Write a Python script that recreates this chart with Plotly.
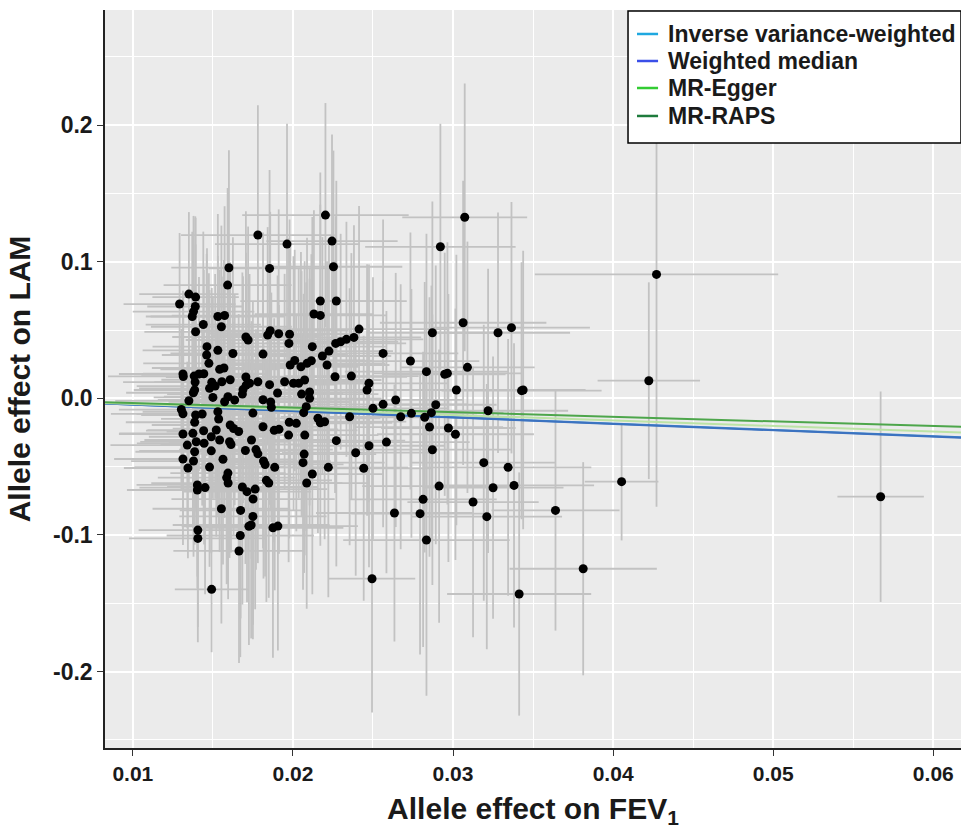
import numpy as np
import plotly.graph_objects as go

# ---- SNP effects ----
fev1_beta = [
    0.02203, 0.01781, 0.02244, 0.01963, 0.01854, 0.02253, 0.01600, 0.01592, 0.03073, 0.02921,
    0.04271, 0.01350, 0.01392, 0.01292, 0.01390, 0.01379, 0.01371, 0.01531, 0.01573, 0.01440,
    0.01553, 0.01392, 0.01706, 0.01720, 0.02171, 0.02271, 0.02131, 0.02171, 0.01858, 0.01842,
    0.01911, 0.01979, 0.01975, 0.02413, 0.02381, 0.02334, 0.02298, 0.02267, 0.03063, 0.02871,
    0.03281, 0.03365, 0.01463, 0.01531, 0.01625, 0.01461, 0.01475, 0.01813, 0.02121, 0.02225,
    0.02184, 0.02115, 0.02088, 0.02050, 0.02011, 0.01983, 0.02213, 0.02263, 0.02365, 0.01542,
    0.01569, 0.01313, 0.01315, 0.01383, 0.01413, 0.01443, 0.01389, 0.01493, 0.01514, 0.01556,
    0.01608, 0.01706, 0.01729, 0.01781, 0.01854, 0.01948, 0.02003, 0.02036, 0.02073, 0.02563,
    0.02734, 0.02834, 0.02948, 0.02965, 0.03090, 0.02475, 0.01688, 0.01708, 0.01684, 0.01386,
    0.01479, 0.01904, 0.02054, 0.02104, 0.02104, 0.02463, 0.03021, 0.03428, 0.03438, 0.01378,
    0.01500, 0.01350, 0.01594, 0.01636, 0.01573, 0.01813, 0.01861, 0.02083, 0.01865, 0.02067,
    0.01750, 0.02500, 0.02563, 0.02642, 0.01303, 0.01313, 0.01392, 0.01433, 0.01531, 0.01536,
    0.01386, 0.01608, 0.01629, 0.01661, 0.01813, 0.01883, 0.01913, 0.01977, 0.02021, 0.01973,
    0.02074, 0.02156, 0.02171, 0.02198, 0.02354, 0.02673, 0.02740, 0.02823, 0.02865, 0.02892,
    0.03219, 0.02853, 0.02971, 0.03015, 0.01313, 0.01375, 0.01442, 0.01521, 0.01490, 0.01542,
    0.01396, 0.01445, 0.01340, 0.01604, 0.01613, 0.01741, 0.02271, 0.02475, 0.02584, 0.01386,
    0.01490, 0.01703, 0.01769, 0.01781, 0.01313, 0.01379, 0.01563, 0.01816, 0.01826, 0.01886,
    0.02070, 0.02063, 0.01344, 0.01479, 0.01594, 0.01586, 0.01595, 0.01834, 0.01849, 0.02086,
    0.02121, 0.02221, 0.02392, 0.02442, 0.02871, 0.03192, 0.03344, 0.01403, 0.01403, 0.01451,
    0.01684, 0.01713, 0.01764, 0.01751, 0.01553, 0.01673, 0.01750, 0.01725, 0.01739, 0.01875,
    0.01906, 0.01406, 0.01406, 0.01671, 0.01663, 0.01492, 0.02494, 0.02913, 0.03250, 0.03381,
    0.02813, 0.03125, 0.02634, 0.02794, 0.03211, 0.03640, 0.02834, 0.03413, 0.03813, 0.04053,
    0.04223, 0.05671,
]
lam_beta = [
    0.1341, 0.1195, 0.1151, 0.1129, 0.0951, 0.0963, 0.0956, 0.0829, 0.1325, 0.1109,
    0.0907, 0.0763, 0.0741, 0.0690, 0.0672, 0.0635, 0.0599, 0.0599, 0.0606, 0.0540,
    0.0524, 0.0487, 0.0449, 0.0427, 0.0712, 0.0712, 0.0617, 0.0607, 0.0495, 0.0463,
    0.0473, 0.0469, 0.0402, 0.0507, 0.0446, 0.0432, 0.0414, 0.0402, 0.0553, 0.0480,
    0.0480, 0.0517, 0.0378, 0.0351, 0.0328, 0.0317, 0.0256, 0.0324, 0.0378, 0.0346,
    0.0310, 0.0275, 0.0256, 0.0231, 0.0277, 0.0244, 0.0244, 0.0158, 0.0163, 0.0212,
    0.0222, 0.0178, 0.0160, 0.0163, 0.0178, 0.0180, 0.0119, 0.0118, 0.0090, 0.0121,
    0.0136, 0.0156, 0.0110, 0.0121, 0.0100, 0.0121, 0.0110, 0.0110, 0.0134, 0.0329,
    0.0273, 0.0195, 0.0176, 0.0183, 0.0227, 0.0110, 0.0064, 0.0097, 0.0031, 0.0061,
    0.0073, 0.0039, 0.0031, 0.0046, 0.0000, 0.0061, 0.0061, 0.0056, 0.0061, 0.0041,
    0.0007, -0.0018, 0.0012, -0.0012, -0.0025, -0.0010, -0.0027, -0.0061, -0.0066, -0.0105,
    -0.0108, -0.0073, -0.0044, -0.0012, -0.0082, -0.0113, -0.0122, -0.0115, -0.0098, -0.0151,
    -0.0175, -0.0195, -0.0221, -0.0243, -0.0208, -0.0234, -0.0227, -0.0175, -0.0183, -0.0269,
    -0.0269, -0.0146, -0.0179, -0.0171, -0.0135, -0.0135, -0.0110, -0.0139, -0.0105, -0.0047,
    -0.0091, -0.0210, -0.0217, -0.0263, -0.0261, -0.0256, -0.0237, -0.0232, -0.0281, -0.0305,
    -0.0318, -0.0329, -0.0342, -0.0318, -0.0338, -0.0305, -0.0310, -0.0347, -0.0320, -0.0391,
    -0.0384, -0.0382, -0.0375, -0.0406, -0.0444, -0.0459, -0.0446, -0.0459, -0.0484, -0.0505,
    -0.0408, -0.0471, -0.0510, -0.0503, -0.0547, -0.0580, -0.0620, -0.0600, -0.0620, -0.0620,
    -0.0554, -0.0505, -0.0398, -0.0512, -0.0376, -0.0471, -0.0505, -0.0634, -0.0671, -0.0653,
    -0.0649, -0.0683, -0.0664, -0.0737, -0.0808, -0.0820, -0.0864, -0.0936, -0.0927, -0.0948,
    -0.0935, -0.0964, -0.1025, -0.1004, -0.1117, -0.1398, -0.1320, -0.0642, -0.0654, -0.0637,
    -0.0739, -0.0759, -0.0839, -0.0844, -0.0866, -0.0820, -0.1037, -0.1432, -0.1247, -0.0610,
    0.0129, -0.0720,
]
fev1_ci = [
    0.0052, 0.0048, 0.0041, 0.0045, 0.0038, 0.0043, 0.0036, 0.0040, 0.0039, 0.0047,
    0.0076, 0.0031, 0.0027, 0.0035, 0.0030, 0.0038, 0.0029, 0.0042, 0.0033, 0.0036,
    0.0044, 0.0032, 0.0046, 0.0039, 0.0050, 0.0044, 0.0037, 0.0041, 0.0049, 0.0035,
    0.0043, 0.0038, 0.0046, 0.0055, 0.0042, 0.0048, 0.0036, 0.0044, 0.0052, 0.0041,
    0.0045, 0.0049, 0.0034, 0.0047, 0.0039, 0.0028, 0.0041, 0.0053, 0.0046, 0.0040,
    0.0043, 0.0038, 0.0049, 0.0036, 0.0044, 0.0051, 0.0039, 0.0045, 0.0042, 0.0037,
    0.0045, 0.0040, 0.0047, 0.0033, 0.0042, 0.0038, 0.0045, 0.0036, 0.0049, 0.0034,
    0.0043, 0.0050, 0.0039, 0.0046, 0.0041, 0.0052, 0.0037, 0.0044, 0.0048, 0.0047,
    0.0043, 0.0051, 0.0038, 0.0046, 0.0042, 0.0049, 0.0040, 0.0035, 0.0047, 0.0038,
    0.0044, 0.0041, 0.0048, 0.0036, 0.0045, 0.0052, 0.0044, 0.0050, 0.0039, 0.0042,
    0.0037, 0.0046, 0.0040, 0.0048, 0.0035, 0.0043, 0.0050, 0.0041, 0.0046, 0.0038,
    0.0044, 0.0047, 0.0053, 0.0042, 0.0039, 0.0045, 0.0034, 0.0041, 0.0047, 0.0036,
    0.0043, 0.0049, 0.0038, 0.0045, 0.0041, 0.0052, 0.0037, 0.0044, 0.0048, 0.0040,
    0.0046, 0.0039, 0.0045, 0.0051, 0.0043, 0.0048, 0.0041, 0.0054, 0.0045, 0.0038,
    0.0050, 0.0046, 0.0042, 0.0049, 0.0040, 0.0046, 0.0036, 0.0043, 0.0039, 0.0047,
    0.0035, 0.0042, 0.0048, 0.0038, 0.0044, 0.0050, 0.0043, 0.0047, 0.0052, 0.0037,
    0.0045, 0.0041, 0.0048, 0.0036, 0.0043, 0.0039, 0.0046, 0.0042, 0.0049, 0.0038,
    0.0045, 0.0051, 0.0040, 0.0047, 0.0036, 0.0043, 0.0048, 0.0041, 0.0046, 0.0039,
    0.0044, 0.0050, 0.0046, 0.0042, 0.0049, 0.0045, 0.0052, 0.0038, 0.0044, 0.0041,
    0.0047, 0.0040, 0.0045, 0.0051, 0.0043, 0.0038, 0.0046, 0.0042, 0.0049, 0.0044,
    0.0050, 0.0037, 0.0043, 0.0046, 0.0041, 0.0023, 0.0027, 0.0048, 0.0044, 0.0050,
    0.0046, 0.0041, 0.0049, 0.0043, 0.0047, 0.0040, 0.0052, 0.0045, 0.0046, 0.0023,
    0.0032, 0.0027,
]
lam_ci = [
    0.082, 0.095, 0.078, 0.088, 0.072, 0.085, 0.086, 0.071, 0.098, 0.090,
    0.170, 0.060, 0.058, 0.052, 0.066, 0.070, 0.062, 0.075, 0.080, 0.068,
    0.074, 0.064, 0.092, 0.083, 0.094, 0.088, 0.076, 0.081, 0.087, 0.079,
    0.091, 0.084, 0.077, 0.090, 0.082, 0.086, 0.079, 0.093, 0.104, 0.096,
    0.088, 0.092, 0.072, 0.069, 0.085, 0.074, 0.066, 0.089, 0.095, 0.083,
    0.087, 0.078, 0.092, 0.084, 0.081, 0.088, 0.076, 0.085, 0.090, 0.073,
    0.079, 0.061, 0.058, 0.067, 0.071, 0.076, 0.064, 0.069, 0.082, 0.077,
    0.086, 0.091, 0.080, 0.085, 0.088, 0.079, 0.093, 0.084, 0.087, 0.098,
    0.094, 0.101, 0.089, 0.096, 0.092, 0.087, 0.083, 0.078, 0.089, 0.065,
    0.072, 0.086, 0.090, 0.083, 0.095, 0.092, 0.099, 0.094, 0.102, 0.068,
    0.074, 0.063, 0.081, 0.077, 0.085, 0.088, 0.079, 0.091, 0.084, 0.087,
    0.082, 0.096, 0.090, 0.093, 0.059, 0.064, 0.070, 0.067, 0.076, 0.080,
    0.066, 0.083, 0.078, 0.086, 0.089, 0.082, 0.091, 0.085, 0.079, 0.093,
    0.088, 0.084, 0.090, 0.086, 0.094, 0.097, 0.091, 0.099, 0.093, 0.102,
    0.104, 0.095, 0.098, 0.092, 0.062, 0.069, 0.073, 0.078, 0.071, 0.082,
    0.066, 0.074, 0.061, 0.085, 0.079, 0.087, 0.092, 0.089, 0.096, 0.068,
    0.075, 0.083, 0.088, 0.080, 0.063, 0.070, 0.077, 0.086, 0.082, 0.090,
    0.087, 0.093, 0.066, 0.073, 0.081, 0.078, 0.085, 0.089, 0.084, 0.092,
    0.088, 0.095, 0.090, 0.097, 0.099, 0.101, 0.094, 0.067, 0.072, 0.078,
    0.086, 0.081, 0.088, 0.092, 0.084, 0.079, 0.090, 0.087, 0.083, 0.095,
    0.091, 0.071, 0.076, 0.089, 0.082, 0.046, 0.098, 0.100, 0.096, 0.104,
    0.108, 0.099, 0.094, 0.103, 0.097, 0.088, 0.114, 0.089, 0.078, 0.043,
    0.072, 0.077,
]

# ---- MR estimates (slope lines) ----
methods = ["Inverse variance-weighted", "Weighted median", "MR-Egger", "MR-RAPS"]
slopes = [-0.462, -0.468, -0.405, -0.338]
intercepts = [0.0, 0.0, 0.0, 0.0]
legend_colors = ["#1FA8E0", "#3A4FE8", "#33CC33", "#1E7B3C"]
line_colors = ["#3A86CC", "#3C72C0", "#BCE3A6", "#4DA64B"]

# ---- axes ----
x_range = [0.00826, 0.06173]
y_range = [-0.2559, 0.2842]
x_ticks = [0.01, 0.02, 0.03, 0.04, 0.05, 0.06]
x_ticktext = ["0.01", "0.02", "0.03", "0.04", "0.05", "0.06"]
y_ticks = [-0.2, -0.1, 0.0, 0.1, 0.2]
y_ticktext = ["-0.2", "-0.1", "0.0", "0.1", "0.2"]

FONT = "Liberation Sans, Arial, sans-serif"
TXT = "#1a1a1a"

fig = go.Figure()

# error bars (drawn first)
fig.add_trace(go.Scatter(
    x=fev1_beta, y=lam_beta, mode="markers",
    marker=dict(size=1, color="rgba(0,0,0,0)"),
    error_x=dict(type="data", array=fev1_ci, color="#C2C2C2", thickness=1.8, width=0),
    error_y=dict(type="data", array=lam_ci, color="#C2C2C2", thickness=1.8, width=0),
    showlegend=False, hoverinfo="skip",
))

# MR lines
xl = np.array(x_range)
for name, s, b, c in zip(methods, slopes, intercepts, line_colors):
    fig.add_trace(go.Scatter(
        x=xl, y=b + s * xl, mode="lines", name=name,
        line=dict(color=c, width=2.0), showlegend=False,
    ))

# points
fig.add_trace(go.Scatter(
    x=fev1_beta, y=lam_beta, mode="markers",
    marker=dict(size=9, color="black"),
    showlegend=False,
))

# ---- legend box (paper coordinates, ggplot-like compact spacing) ----
legend_box = dict(x0=0.611, x1=1.0, y0=0.8198, y1=0.9986)
legend_rows = [0.9675, 0.9309, 0.8943, 0.8564]
key_x = (0.6215, 0.6461)
label_x = 0.6555

shapes = [dict(type="rect", xref="paper", yref="paper", layer="above",
               fillcolor="white", line=dict(color="black", width=1.5), **legend_box)]
annotations = []
for name, c, yr in zip(methods, legend_colors, legend_rows):
    shapes.append(dict(type="line", xref="paper", yref="paper", layer="above",
                       x0=key_x[0], x1=key_x[1], y0=yr, y1=yr,
                       line=dict(color=c, width=2.5)))
    annotations.append(dict(xref="paper", yref="paper", x=label_x, y=yr,
                            xanchor="left", yanchor="middle", showarrow=False,
                            text=name,
                            font=dict(family=FONT, size=23, color=TXT, weight="bold")))

fig.update_layout(
    width=961, height=835,
    margin=dict(l=105, r=0, t=10, b=87),
    paper_bgcolor="white",
    plot_bgcolor="#EBEBEB",
    font=dict(family=FONT, color=TXT),
    shapes=shapes,
    annotations=annotations,
    showlegend=False,
)
fig.update_xaxes(
    range=x_range, tickvals=x_ticks, ticktext=x_ticktext,
    showgrid=True, gridcolor="white", gridwidth=1.6,
    minor=dict(dtick=0.005, tick0=0, showgrid=True, gridcolor="white", gridwidth=0.8),
    showline=True, linecolor="#222", linewidth=1.5,
    ticks="outside", ticklen=6, tickcolor="#333", tickwidth=1.2,
    tickfont=dict(size=21, family=FONT, color=TXT, weight="bold"),
    title=dict(text="Allele effect on FEV<sub>1</sub>", standoff=14,
               font=dict(size=30, family=FONT, color=TXT, weight="bold")),
    zeroline=False,
)
fig.update_yaxes(
    range=y_range, tickvals=y_ticks, ticktext=y_ticktext,
    showgrid=True, gridcolor="white", gridwidth=1.6,
    minor=dict(dtick=0.05, tick0=0, showgrid=True, gridcolor="white", gridwidth=0.8),
    showline=True, linecolor="#222", linewidth=1.5,
    ticks="outside", ticklen=6, tickcolor="#333", tickwidth=1.2,
    tickfont=dict(size=23, family=FONT, color=TXT, weight="bold"),
    title=dict(text="Allele effect on LAM", standoff=14,
               font=dict(size=30, family=FONT, color=TXT, weight="bold")),
    zeroline=False,
)

fig.write_html("out.html", config={"displayModeBar": False},
               post_script="document.body.style.margin='0';")
